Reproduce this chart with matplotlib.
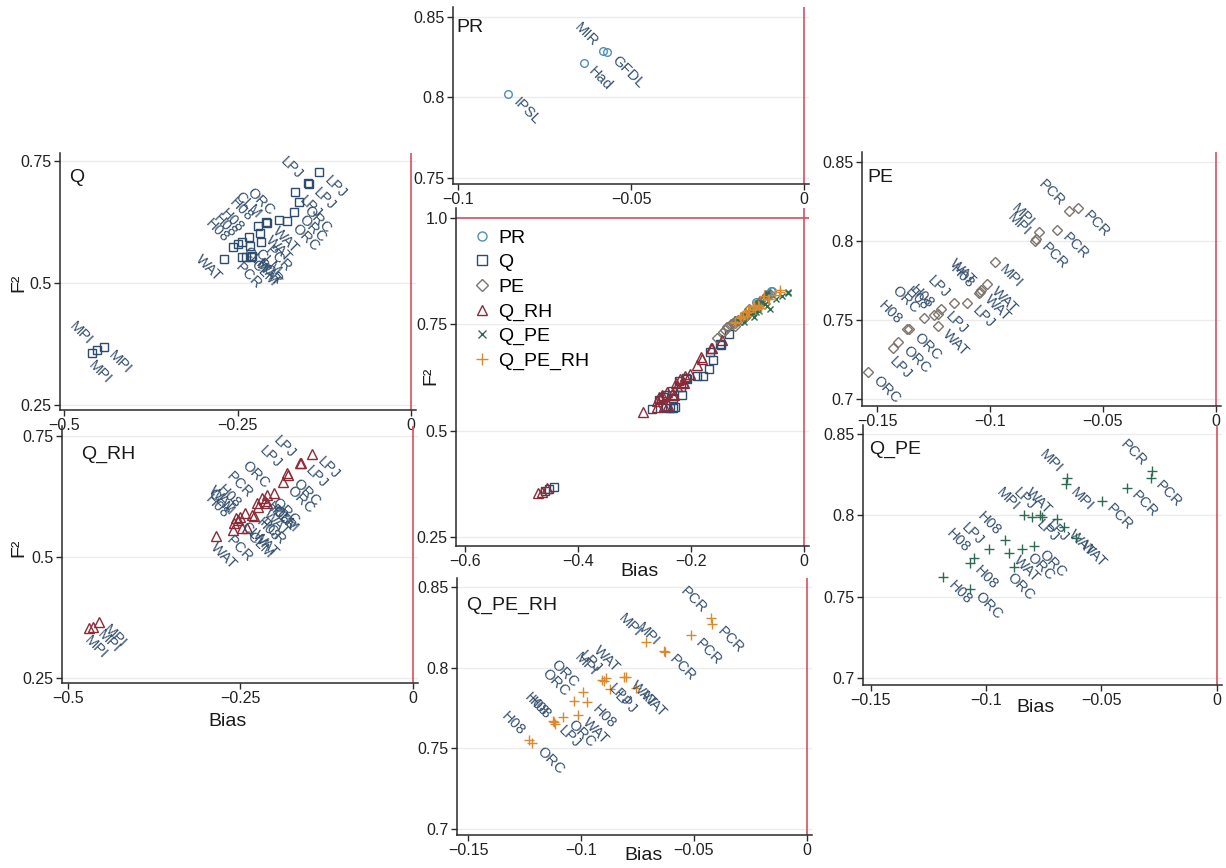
import matplotlib
matplotlib.use("Agg")
import matplotlib.pyplot as plt
from matplotlib.lines import Line2D

plt.rcParams['font.family'] = ['Liberation Sans', 'DejaVu Sans']

# ---------------- data ----------------
PR_x = [-0.0582, -0.0568, -0.0636, -0.0855]
PR_y = [0.8290, 0.8280, 0.8212, 0.8020]
PR_lab = ['MIR', 'GFDL', 'Had', 'IPSL']
PR_side = ['l', 'r', 'r', 'r']

Q_x = [-0.132, -0.149, -0.147, -0.167, -0.161, -0.168, -0.178, -0.190, -0.209, -0.207,
       -0.221, -0.217, -0.234, -0.216, -0.244, -0.249, -0.232, -0.256, -0.269, -0.244,
       -0.238, -0.231, -0.229, -0.459, -0.452, -0.443]
Q_y = [0.727, 0.704, 0.702, 0.686, 0.665, 0.646, 0.628, 0.629, 0.624, 0.622,
       0.617, 0.603, 0.594, 0.583, 0.583, 0.580, 0.576, 0.573, 0.550, 0.554,
       0.554, 0.554, 0.556, 0.357, 0.363, 0.368]
Q_lab = ['LPJ', 'LPJ', 'LPJ', 'LPJ', 'ORC', 'ORC', 'ORC', 'ORC', 'CLM', 'WAT',
         'H08', 'WAT', 'H08', 'PCR', 'H08', 'CLM', 'CLM', 'H08', 'WAT', 'PCR',
         'CLM', 'WAT', 'PCR', 'MPI', 'MPI', 'MPI']
Q_side = ['r', 'l', 'r', 'r', 'r', 'r', 'r', 'l', 'l', 'r',
          'l', 'r', 'l', 'r', 'l', 'r', 'r', 'l', 'bl', 'b',
          'r', 'r', 'r', 'b', 'l', 'r']

QRH_x = [-0.146, -0.164, -0.163, -0.183, -0.181, -0.189, -0.202, -0.211, -0.219, -0.226,
         -0.224, -0.234, -0.243, -0.251, -0.253, -0.256, -0.260, -0.248, -0.261, -0.285,
         -0.240, -0.230, -0.215, -0.212, -0.470, -0.464, -0.455]
QRH_y = [0.713, 0.695, 0.694, 0.674, 0.669, 0.654, 0.633, 0.628, 0.621, 0.611,
         0.604, 0.587, 0.590, 0.583, 0.577, 0.580, 0.570, 0.559, 0.556, 0.543,
         0.560, 0.585, 0.615, 0.612, 0.353, 0.356, 0.366]
QRH_lab = ['LPJ', 'LPJ', 'LPJ', 'LPJ', 'ORC', 'ORC', 'ORC', 'ORC', 'H08', 'PCR',
           'WAT', 'H08', 'H08', 'WAT', 'CLM', 'CLM', 'H08', 'CLM', 'PCR', 'WAT',
           'WAT', 'PCR', 'PCR', 'CLM', 'MPI', 'MPI', 'MPI']
QRH_side = ['r', 'l', 'r', 'l', 'r', 'r', 'l', 'r', 'r', 'l',
            'r', 'r', 'l', 'l', 'l', 'r', 'l', 'r', 'b', 'b',
            'r', 'r', 'r', 'r', 'b', 'r', 'r']

PE_x = [-0.0609, -0.0649, -0.0702, -0.0782, -0.0800, -0.0795, -0.0978, -0.1015, -0.1044, -0.1050,
        -0.1040, -0.1100, -0.1160, -0.1217, -0.1229, -0.1250, -0.1290, -0.1230, -0.1358, -0.1369,
        -0.1406, -0.1428, -0.1538]
PE_y = [0.821, 0.819, 0.807, 0.806, 0.800, 0.801, 0.787, 0.773, 0.768, 0.767,
        0.769, 0.761, 0.761, 0.757, 0.754, 0.753, 0.751, 0.746, 0.744, 0.744,
        0.736, 0.732, 0.717]
PE_lab = ['PCR', 'PCR', 'PCR', 'MPI', 'MPI', 'PCR', 'MPI', 'WAT', 'WAT', 'H08',
          'WAT', 'LPJ', 'LPJ', 'LPJ', 'H08', 'H08', 'ORC', 'WAT', 'ORC', 'H08',
          'ORC', 'LPJ', 'ORC']
PE_side = ['r', 'l', 'r', 'l', 'l', 'r', 'r', 'r', 'r', 'l',
           'l', 'r', 'l', 'r', 'l', 'l', 'l', 'r', 'r', 'l',
           'r', 'b', 'r']

QPE_x = [-0.0648, -0.0652, -0.0497, -0.0281, -0.0285, -0.0389, -0.0764, -0.0757, -0.0800, -0.0836,
         -0.0692, -0.0660, -0.0608, -0.0790, -0.0843, -0.0916, -0.0988, -0.0900, -0.0880, -0.1050,
         -0.1070, -0.1070, -0.1185]
QPE_y = [0.823, 0.819, 0.809, 0.827, 0.823, 0.817, 0.800, 0.799, 0.799, 0.800,
         0.798, 0.793, 0.786, 0.781, 0.779, 0.785, 0.779, 0.777, 0.768, 0.774,
         0.771, 0.755, 0.762]
QPE_lab = ['MPI', 'MPI', 'PCR', 'PCR', 'PCR', 'PCR', 'LPJ', 'LPJ', 'LPJ', 'MPI',
           'WAT', 'WAT', 'WAT', 'ORC', 'ORC', 'H08', 'LPJ', 'WAT', 'ORC', 'H08',
           'H08', 'ORC', 'H08']
QPE_side = ['l', 'r', 'r', 'l', 'r', 'r', 'l', 'r', 'r', 'l',
            'l', 'r', 'r', 'r', 'r', 'l', 'l', 'r', 'b', 'l',
            'r', 'r', 'r']

QPERH_x = [-0.0424, -0.0418, -0.0514, -0.0714, -0.0631, -0.0628, -0.0808, -0.0800, -0.0757, -0.0890,
           -0.0909, -0.0899, -0.0872, -0.0993, -0.0972, -0.1030, -0.1015, -0.1079, -0.1126, -0.1120,
           -0.1115, -0.1230, -0.1219]
QPERH_y = [0.8306, 0.8270, 0.8200, 0.8160, 0.8105, 0.8100, 0.7944, 0.7940, 0.7876, 0.7934,
           0.7923, 0.7917, 0.7868, 0.7847, 0.7789, 0.7793, 0.7706, 0.7696, 0.7669, 0.7661,
           0.7650, 0.7551, 0.7531]
QPERH_lab = ['PCR', 'PCR', 'PCR', 'MPI', 'MPI', 'PCR', 'WAT', 'WAT', 'WAT', 'LPJ',
             'MPI', 'LPJ', 'LPJ', 'ORC', 'H08', 'ORC', 'WAT', 'ORC', 'H08', 'LPJ',
             'H08', 'H08', 'ORC']
QPERH_side = ['l', 'r', 'r', 'l', 'l', 'r', 'l', 'r', 'r', 'l',
              'l', 'r', 'r', 'l', 'r', 'l', 'r', 'r', 'l', 'r',
              'l', 'l', 'r']

series_names = ['PR', 'Q', 'PE', 'Q_RH', 'Q_PE', 'Q_PE_RH']

# ---------------- style ----------------
W, H = 1226, 868
fig = plt.figure(figsize=(W / 100, H / 100), dpi=100)

LABC = '#34506e'
RED = '#d8505c'
GRID = '#ebebeb'
AXC = '#2a2a2a'
styles = {
    'PR': dict(marker='o', color='#4f8fba', ms=5.5),
    'Q': dict(marker='s', color='#2d4c6e', ms=6),
    'PE': dict(marker='D', color='#7d746c', ms=5.5),
    'Q_RH': dict(marker='^', color='#8c2b37', ms=6.5),
    'Q_PE': dict(marker='x', color='#2e6b50', ms=5),
    'Q_PE_RH': dict(marker='+', color='#d98a2e', ms=7.5),
}

def fmt(v):
    return f"{v:g}".replace('-', '\u2212')

def make_axes(left, right, top, bottom, xa, ya, xticks, yticks, ylabels=None):
    (xv1, xp1), (xv2, xp2) = xa
    sx = (xv2 - xv1) / (xp2 - xp1)
    (yv1, yp1), (yv2, yp2) = ya
    sy = (yv2 - yv1) / (yp2 - yp1)
    ax = fig.add_axes([left / W, 1 - bottom / H, (right - left) / W, (bottom - top) / H])
    ax.set_facecolor('none')
    ax.set_xlim(xv1 + (left - xp1) * sx, xv1 + (right - xp1) * sx)
    ax.set_ylim(yv1 + (bottom - yp1) * sy, yv1 + (top - yp1) * sy)
    for s in ['top', 'right']:
        ax.spines[s].set_visible(False)
    for s in ['left', 'bottom']:
        ax.spines[s].set_color(AXC)
        ax.spines[s].set_linewidth(1.1)
    ax.set_xticks(xticks)
    ax.set_xticklabels([fmt(v) for v in xticks])
    ax.set_yticks(yticks)
    ax.set_yticklabels(ylabels if ylabels else [fmt(v) for v in yticks])
    ax.tick_params(direction='out', length=4, width=1, color=AXC, labelsize=11.5,
                   labelcolor='#222222', pad=2)
    for yv in yticks:
        ax.axhline(yv, color=GRID, lw=1, zorder=0)
    ax.axvline(0, color=RED, lw=1.2, zorder=1)
    return ax

OFFS = {'r': ((5, -4), 'left'), 'l': ((-5, 5), 'right'),
        'b': ((5, -14), 'center'), 'bl': ((-11, -7), 'center')}

def scatter_labeled(ax, name, xs, ys, labs, sides):
    st = styles[name]
    ax.plot(xs, ys, linestyle='none', marker=st['marker'], ms=st['ms'],
            mfc='none', mec=st['color'], mew=1.0, zorder=3, clip_on=False)
    for x, y, lab, sd in zip(xs, ys, labs, sides):
        off, ha = OFFS[sd]
        ax.annotate(lab, (x, y), xytext=off, textcoords='offset points',
                    rotation=-45, rotation_mode='anchor', ha=ha, va='center',
                    fontsize=10.5, color=LABC, zorder=4, annotation_clip=False)

def panel_title(txt, x, y):
    fig.text(x / W, 1 - y / H, txt, fontsize=14, ha='left', va='center', color='#1a1a1a')

def fig_label(txt, x, y, rot=0):
    fig.text(x / W, 1 - y / H, txt, fontsize=14, ha='center', va='center',
             rotation=rot, color='#1a1a1a')

# ---------------- panels ----------------
axQ = make_axes(60, 416, 153, 410, ((-0.5, 64), (0, 411)), ((0.75, 161), (0.25, 405)),
                [-0.5, -0.25, 0], [0.25, 0.5, 0.75])
scatter_labeled(axQ, 'Q', Q_x, Q_y, Q_lab, Q_side)
panel_title('Q', 69, 178)
fig_label('F²', 19, 283, 90)

axQRH = make_axes(62, 418, 426, 683, ((-0.5, 68), (0, 413)), ((0.75, 436), (0.25, 678)),
                  [-0.5, -0.25, 0], [0.25, 0.5, 0.75])
scatter_labeled(axQRH, 'Q_RH', QRH_x, QRH_y, QRH_lab, QRH_side)
panel_title('Q_RH', 81, 454)
fig_label('F²', 19, 548, 90)
fig_label('Bias', 228, 721)

axPR = make_axes(453, 809, 7, 184, ((-0.1, 458), (0, 804)), ((0.85, 17), (0.75, 178)),
                 [-0.1, -0.05, 0], [0.75, 0.8, 0.85])
scatter_labeled(axPR, 'PR', PR_x, PR_y, PR_lab, PR_side)
panel_title('PR', 456, 28)

axM = make_axes(456, 809, 208, 546, ((-0.6, 465), (0, 804)), ((1.0, 218), (0.25, 537)),
                [-0.6, -0.4, -0.2, 0], [0.25, 0.5, 0.75, 1.0],
                ylabels=['0.25', '0.5', '0.75', '1.0'])
axM.axhline(1.0, color=RED, lw=1.2, zorder=1)
all_data = [(PR_x, PR_y), (Q_x, Q_y), (PE_x, PE_y), (QRH_x, QRH_y), (QPE_x, QPE_y),
            (QPERH_x, QPERH_y)]
handles = []
for name, (xs, ys) in zip(series_names, all_data):
    st = styles[name]
    axM.plot(xs, ys, linestyle='none', marker=st['marker'], ms=st['ms'],
             mfc='none', mec=st['color'], mew=1.0, zorder=3)
    handles.append(Line2D([], [], linestyle='none', marker=st['marker'], ms=st['ms'] + 1,
                          mfc='none', mec=st['color'], mew=1.0))
axM.legend(handles, series_names, loc='upper left', frameon=False, fontsize=14,
           bbox_to_anchor=(472 / W, 1 - 229 / H), bbox_transform=fig.transFigure,
           borderpad=0, borderaxespad=0, handlelength=1.0, handletextpad=0.35,
           labelspacing=0.36)
fig_label('F²', 431, 376, 90)
fig_label('Bias', 639, 572)

axQPERH = make_axes(457, 812, 578, 835, ((-0.15, 468.3), (0, 806.7)), ((0.85, 587), (0.7, 829)),
                    [-0.15, -0.1, -0.05, 0], [0.7, 0.75, 0.8, 0.85])
scatter_labeled(axQPERH, 'Q_PE_RH', QPERH_x, QPERH_y, QPERH_lab, QPERH_side)
panel_title('Q_PE_RH', 466, 605)
fig_label('Bias', 644, 855)

axPE = make_axes(862, 1221, 152, 406, ((-0.15, 877), (0, 1216)), ((0.85, 162), (0.7, 399)),
                 [-0.15, -0.1, -0.05, 0], [0.7, 0.75, 0.8, 0.85])
scatter_labeled(axPE, 'PE', PE_x, PE_y, PE_lab, PE_side)
panel_title('PE', 867, 178)

axQPE = make_axes(863, 1222, 425, 685, ((-0.15, 870.5), (0, 1216.5)), ((0.85, 434), (0.7, 678)),
                  [-0.15, -0.1, -0.05, 0], [0.7, 0.75, 0.8, 0.85])
styles['Q_PE_panel'] = dict(marker='+', color=styles['Q_PE']['color'], ms=6.5)
scatter_labeled(axQPE, 'Q_PE_panel', QPE_x, QPE_y, QPE_lab, QPE_side)
panel_title('Q_PE', 869, 449)
fig_label('Bias', 1035, 708)

fig.savefig('out.png', dpi=100)
